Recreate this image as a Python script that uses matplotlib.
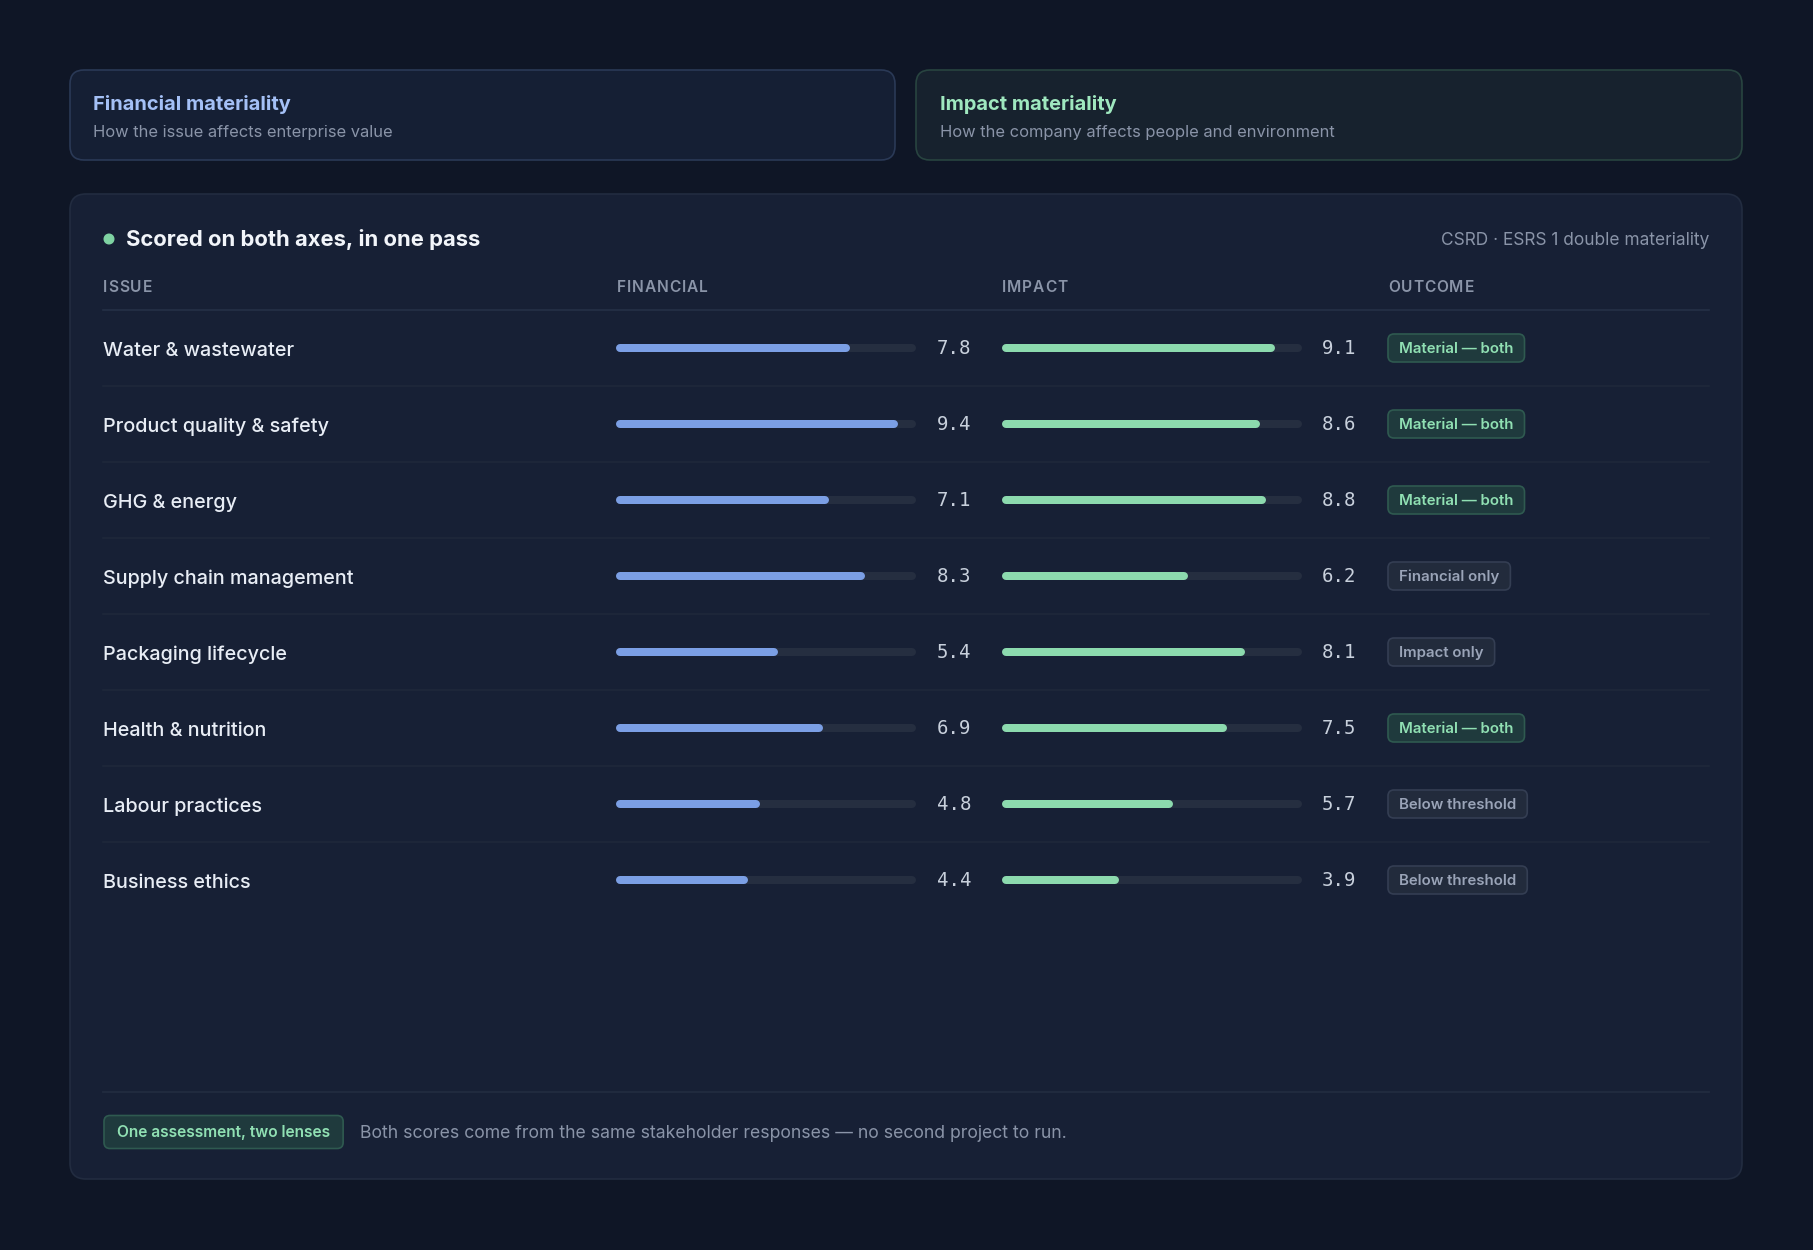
import matplotlib
matplotlib.use("Agg")
import matplotlib.pyplot as plt
from matplotlib.patches import FancyBboxPatch, Circle

W, H = 1813, 1250

issues = ["Water & wastewater", "Product quality & safety", "GHG & energy",
          "Supply chain management", "Packaging lifecycle", "Health & nutrition",
          "Labour practices", "Business ethics"]
financial = [7.8, 9.4, 7.1, 8.3, 5.4, 6.9, 4.8, 4.4]
impact = [9.1, 8.6, 8.8, 6.2, 8.1, 7.5, 5.7, 3.9]
outcomes = ["Material — both", "Material — both", "Material — both", "Financial only",
            "Impact only", "Material — both", "Below threshold", "Below threshold"]
columns = ["ISSUE", "FINANCIAL", "IMPACT", "OUTCOME"]

BG = "#0f1626"
CARD = "#172035"
BLUE = "#7b9fe5"
GREEN = "#8cdaae"
TRACK = "#252e40"
MUTED = "#8a94a8"

plt.rcParams["font.family"] = ["Inter", "DejaVu Sans"]


def px(v):
    # pixel size -> points at dpi 100
    return v * 0.72


fig = plt.figure(figsize=(W / 100, H / 100), dpi=100, facecolor=BG)
ax = fig.add_axes([0, 0, 1, 1])
ax.set_xlim(0, W)
ax.set_ylim(H, 0)
ax.axis("off")
renderer = fig.canvas.get_renderer()


def card(x0, y0, x1, y1, fc, ec, r=14, z=1):
    p = FancyBboxPatch((x0, y0), x1 - x0, y1 - y0,
                       boxstyle=f"round,pad=0,rounding_size={r}",
                       fc=fc, ec=ec, lw=1.2, zorder=z)
    ax.add_patch(p)


def tracked(x, y, s, track, **kw):
    # letter-spaced text, one glyph at a time
    for ch in s:
        t = ax.text(x, y, ch, ha="left", **kw)
        x += t.get_window_extent(renderer).width + track


# top cards
card(70, 70, 895, 160, "#151f34", "#2a3956")
card(916, 70, 1742, 160, "#17222e", "#284440")
ax.text(93, 104.5, "Financial materiality", color="#a4c0f6", fontsize=px(20),
        fontweight="bold", va="center", ha="left")
ax.text(93, 132.5, "How the issue affects enterprise value", color=MUTED,
        fontsize=px(16.5), va="center", ha="left")
ax.text(940, 104.5, "Impact materiality", color="#9fe8bf", fontsize=px(20),
        fontweight="bold", va="center", ha="left")
ax.text(940, 132.5, "How the company affects people and environment", color=MUTED,
        fontsize=px(16.5), va="center", ha="left")

# main card
card(70, 194, 1742, 1179, CARD, "#222c40", r=16)
ax.add_patch(Circle((109, 239), 4.8, color="#7fd3a3", zorder=3))
ax.text(126, 240, "Scored on both axes, in one pass", color="#f2f5fa",
        fontsize=px(22), fontweight="bold", va="center", ha="left")
ax.text(1709, 240.5, "CSRD · ESRS 1 double materiality", color=MUTED,
        fontsize=px(17.3), va="center", ha="right")

col_x = [103, 617, 1002, 1388]
for cx, name in zip(col_x, columns):
    tracked(cx, 287.5, name, 0.9, color="#8a94a8", fontsize=px(15.5),
            fontweight="semibold", va="center")
ax.plot([103, 1709], [310, 310], color="#253046", lw=1.2, zorder=2)

ROW0, ROW_H = 348, 76
n = len(issues)

# bar axes, one per score column, value scale 0..10
top_px, bot_px = 310, 310 + ROW_H * n


def bar_axes(x0, x1):
    b = fig.add_axes([x0 / W, 1 - bot_px / H, (x1 - x0) / W, (bot_px - top_px) / H])
    b.set_xlim(0, 10)
    b.set_ylim(n - 0.5, -0.5)
    b.axis("off")
    b.patch.set_alpha(0)
    return b


lw_px = 8
cap = lw_px / 2 / 300 * 10
for (x0, x1), vals, color in [((616, 916), financial, BLUE), ((1002, 1302), impact, GREEN)]:
    b = bar_axes(x0, x1)
    rows = list(range(n))
    b.hlines(rows, cap, 10 - cap, color=TRACK, lw=px(lw_px), capstyle="round")
    b.hlines(rows, cap, [v - cap for v in vals], color=color, lw=px(lw_px),
             capstyle="round")


def badge(x, yc, label, fc, ec, tc, fs, h, padx):
    t = ax.text(x + padx, yc + 1, label, color=tc, fontsize=px(fs), fontweight="semibold",
                va="center", ha="left", zorder=5)
    tw = t.get_window_extent(renderer).width
    card(x, yc - h / 2, x + tw + 2 * padx, yc + h / 2, fc, ec, r=6, z=4)


for i, (name, f, m, out) in enumerate(zip(issues, financial, impact, outcomes)):
    yc = ROW0 + ROW_H * i
    ax.text(103, yc + 2.5, name, color="#e8edf5", fontsize=px(19.8), fontweight="medium",
            va="center", ha="left")
    ax.text(937, yc, f"{f:.1f}", color="#c8d0dc", fontsize=px(19),
            family="DejaVu Sans Mono", va="center", ha="left")
    ax.text(1322, yc, f"{m:.1f}", color="#c8d0dc", fontsize=px(19),
            family="DejaVu Sans Mono", va="center", ha="left")
    if out.startswith("Material"):
        badge(1388, yc, out, "#1f3a3d", "#2f5a50", "#90e0b3", 15, 28, 11)
    else:
        badge(1388, yc, out, "#222b3c", "#343e53", "#9aa4b8", 15, 28, 11)
    if i < n - 1:
        ax.plot([103, 1709], [yc + ROW_H / 2] * 2, color="#1f293b", lw=1.1, zorder=2)

# footer
ax.plot([103, 1709], [1092, 1092], color="#232d41", lw=1.2, zorder=2)
badge(104, 1132, "One assessment, two lenses", "#1f3a3d", "#2f5a50", "#90e0b3", 15.5, 33, 13)
ax.text(360, 1134, "Both scores come from the same stakeholder responses — no second project to run.",
        color=MUTED, fontsize=px(17.6), va="center", ha="left")

fig.savefig("out.png", dpi=100, facecolor=BG)
